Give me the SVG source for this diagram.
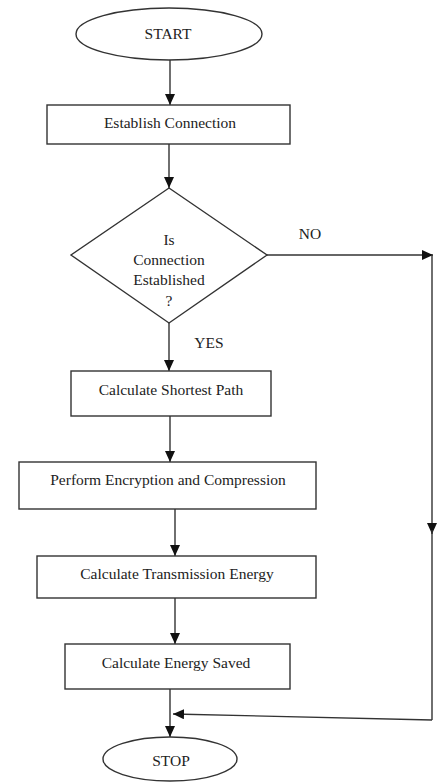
<svg xmlns="http://www.w3.org/2000/svg" width="438" height="783" viewBox="0 0 438 783">
<style>
.shape{fill:#fff;stroke:#333;stroke-width:1.4}
.line{fill:none;stroke:#333;stroke-width:1.4}
text{font-family:"Liberation Serif","Times New Roman",serif;font-size:15.5px;fill:#222;text-anchor:middle}
</style>
<defs>
<marker id="ah" markerUnits="userSpaceOnUse" markerWidth="12" markerHeight="10" refX="11" refY="5" orient="auto">
<path d="M0,0 L11,5 L0,10 Z" fill="#111"/>
</marker>
</defs>
<rect width="438" height="783" fill="#fff"/>
<g id="connectors">
<path class="line" d="M170,60 V105" marker-end="url(#ah)"/>
<path class="line" d="M169,144 V188" marker-end="url(#ah)"/>
<path class="line" d="M169,323 V371" marker-end="url(#ah)"/>
<path class="line" d="M170,416 V462" marker-end="url(#ah)"/>
<path class="line" d="M175,509 V556" marker-end="url(#ah)"/>
<path class="line" d="M175,598 V644" marker-end="url(#ah)"/>
<path class="line" d="M170,689 V737" marker-end="url(#ah)"/>
<path class="line" d="M267,255 H433" marker-end="url(#ah)"/>
<path class="line" d="M432,255 V534" marker-end="url(#ah)"/>
<path class="line" d="M432,530 V720"/>
<path class="line" d="M432,720 L173,714" marker-end="url(#ah)"/>
<text x="310" y="239">NO</text>
<text x="209" y="348">YES</text>
</g>
<g id="start">
<ellipse class="shape" cx="169" cy="34" rx="93" ry="26"/>
<text x="168" y="39">START</text>
</g>
<g id="establish">
<rect class="shape" x="47" y="105" width="243" height="39"/>
<text x="170" y="128">Establish Connection</text>
</g>
<g id="decision">
<path class="shape" d="M169,188 L267,255 L169,323 L71,255 Z"/>
<text x="169" y="245">Is</text>
<text x="169" y="265">Connection</text>
<text x="169" y="285">Established</text>
<text x="169" y="306">?</text>
</g>
<g id="shortest">
<rect class="shape" x="71" y="371" width="200" height="45"/>
<text x="171" y="395">Calculate Shortest Path</text>
</g>
<g id="encrypt">
<rect class="shape" x="19" y="462" width="297" height="47"/>
<text x="168" y="485">Perform Encryption and Compression</text>
</g>
<g id="transmission">
<rect class="shape" x="37" y="556" width="279" height="42"/>
<text x="177" y="579">Calculate Transmission Energy</text>
</g>
<g id="saved">
<rect class="shape" x="65" y="644" width="225" height="45"/>
<text x="176" y="668">Calculate Energy Saved</text>
</g>
<g id="stop">
<ellipse class="shape" cx="170" cy="759" rx="67" ry="22"/>
<text x="171" y="766">STOP</text>
</g>
</svg>
